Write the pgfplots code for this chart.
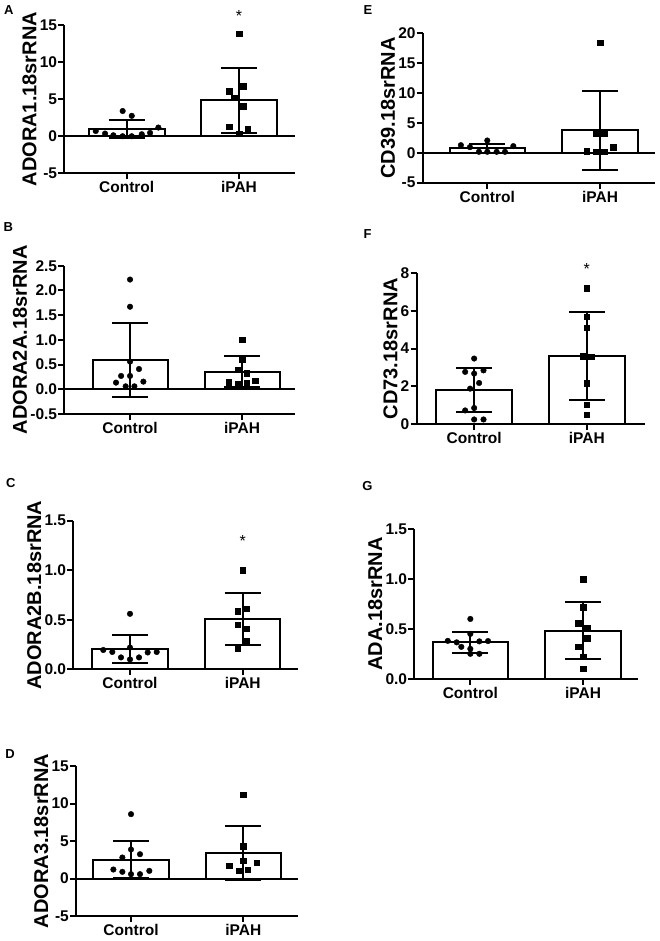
\documentclass[border=0pt]{standalone}
\usepackage{pgfplots}
\pgfplotsset{compat=1.18}
\usepackage{fontspec}
\setmainfont{Liberation Sans}
\newcommand{\tickfont}{\bfseries\fontsize{15.5}{16}\selectfont}
\newcommand{\labfont}{\bfseries\fontsize{20}{22}\selectfont}
\pgfplotsset{
  panel/.style={
    scale only axis,
    axis x line*=bottom, axis y line*=left,
    axis line style={line width=2pt,-},
    every tick/.style={line width=2pt,black},
    major tick length=6pt,
    tick align=outside,
    xtick={0,1}, xticklabels={Control,iPAH},
    minor tick num=0,
    clip=false,
    ticklabel style={font=\tickfont},
    /pgf/number format/assume math mode=true,
    label style={font=\labfont},
    yticklabel style={inner sep=1pt},
    xticklabel style={inner sep=2pt},
    ylabel style={inner sep=2pt},
  },
  dec/.style={yticklabel style={/pgf/number format/.cd,fixed,fixed zerofill,precision=1}},
  bars/.style={ybar, bar width=#1, bar shift=0pt, fill=white, draw=black, line width=2pt,
    error bars/.cd, y dir=both, y explicit,
    error bar style={line width=2pt,black},
    error mark options={rotate=90, line width=2pt, mark size=18pt, black}},
  ctrl/.style={only marks, mark=*, mark size=2.8pt, black},
  ipah/.style={only marks, mark=square*, mark size=2.8pt, black},
  zline/.style={black, line width=2pt, mark=none},
}
\begin{document}
\begin{tikzpicture}
\useasboundingbox (0,0) rectangle (660pt,-941pt);
\tikzset{lett/.style={font=\bfseries\fontsize{13}{14}\selectfont}}
\node[lett] at (8.7pt,-10.5pt) {A};
\node[lett] at (8.3pt,-227.5pt) {B};
\node[lett] at (10.7pt,-483pt) {C};
\node[lett] at (10pt,-754pt) {D};
\node[lett] at (368pt,-10pt) {E};
\node[lett] at (367.5pt,-234pt) {F};
\node[lett] at (367.5pt,-486pt) {G};

% ---------- A
\begin{axis}[panel, at={(64.3pt,-173.3pt)}, anchor=south west,
  width=230.7pt, height=148.3pt, xmin=-0.556, xmax=1.499, ymin=-5, ymax=15,
  ytick={-5,0,5,10,15}, ylabel={ADORA1.18srRNA}]
\addplot[zline] coordinates {(-0.556,0) (1.499,0)};
\addplot[bars=0.675] coordinates {(0,1.0) +- (0,1.2) (1,4.85) +- (0,4.35)};
\addplot[ctrl] coordinates {(-0.276,0.7) (-0.193,0.36) (-0.119,0.13) (-0.036,0) (0.045,0) (0.134,0.27) (0.208,0.45) (0.282,1.17) (-0.036,3.4) (0.045,2.75)};
\addplot[ipah] coordinates {(1,13.8) (0.914,6.1) (1.039,6.75) (0.958,5.2) (1.039,4.05) (0.914,1.26) (1.077,1.04) (1,0.36)};
\node[font=\fontsize{16}{16}\selectfont] at (axis cs:1,16.2) {*};
\end{axis}

% ---------- B
\begin{axis}[panel, dec, at={(64.3pt,-414pt)}, anchor=south west,
  width=230.7pt, height=148.3pt, xmin=-0.587, xmax=1.473, ymin=-0.5, ymax=2.5,
  ytick={-0.5,0,0.5,1,1.5,2,2.5}, ylabel={ADORA2A.18srRNA}]
\addplot[zline] coordinates {(-0.587,0) (1.473,0)};
\addplot[bars=0.67] coordinates {(0,0.59) +- (0,0.745) (1,0.355) +- (0,0.315)};
\addplot[ctrl] coordinates {(0,2.22) (0,1.67) (0,0.56) (0.08,0.41) (-0.08,0.27) (0,0.27) (-0.125,0.135) (0.119,0.155) (-0.039,0.06) (0.039,0.06)};
\addplot[ipah] coordinates {(1,1.0) (1,0.6) (0.961,0.40) (1.042,0.32) (0.881,0.14) (0.961,0.11) (1.042,0.125) (1.119,0.175)};
\end{axis}

% ---------- C
\begin{axis}[panel, dec, at={(73.3pt,-669.3pt)}, anchor=south west,
  width=225pt, height=148.6pt, xmin=-0.503, xmax=1.493, ymin=0, ymax=1.5,
  ytick={0,0.5,1,1.5}, ylabel={ADORA2B.18srRNA}]
\addplot[bars=0.666] coordinates {(0,0.205) +- (0,0.137) (1,0.51) +- (0,0.26)};
\addplot[ctrl] coordinates {(0,0.56) (-0.237,0.195) (-0.157,0.175) (0,0.22) (0.237,0.175) (0.157,0.17) (-0.08,0.12) (0,0.10) (0.08,0.12)};
\addplot[ipah] coordinates {(1,1.0) (0.956,0.585) (1.036,0.61) (0.956,0.45) (1.036,0.41) (1.036,0.286) (0.956,0.215)};
\node[font=\fontsize{16}{16}\selectfont] at (axis cs:1,1.3) {*};
\end{axis}

% ---------- D
\begin{axis}[panel, at={(76pt,-916pt)}, anchor=south west,
  width=222.3pt, height=150pt, xmin=-0.49, xmax=1.49, ymin=-5, ymax=15,
  ytick={-5,0,5,10,15}, ylabel={ADORA3.18srRNA}]
\addplot[zline] coordinates {(-0.49,0) (1.49,0)};
\addplot[bars=0.67] coordinates {(0,2.53) +- (0,2.45) (1,3.45) +- (0,3.6)};
\addplot[ctrl] coordinates {(0,8.58) (0,3.87) (-0.077,2.8) (0.08,3.24) (-0.157,1.2) (-0.077,0.89) (0.163,1.02) (0,0.58) (0.08,0.58)};
\addplot[ipah] coordinates {(1,11.2) (1,4.3) (1,2.36) (0.875,1.73) (1.119,2.09) (0.958,1.02) (1.039,1.2)};
\end{axis}

% ---------- E
\begin{axis}[panel, at={(422.7pt,-182.7pt)}, anchor=south west,
  width=232.3pt, height=149.4pt, xmin=-0.573, xmax=1.488, ymin=-5, ymax=20,
  ytick={-5,0,5,10,15,20}, ylabel={CD39.18srRNA}]
\addplot[zline] coordinates {(-0.573,0) (1.488,0)};
\addplot[bars=0.666] coordinates {(0,0.75) +- (0,0.7) (1,3.75) +- (0,6.65)};
\addplot[ctrl] coordinates {(-0.234,1.28) (-0.154,0.95) (0,2.06) (0.231,1.12) (-0.074,0.17) (0,0.17) (0.083,0.17) (0.157,0.17)};
\addplot[ipah] coordinates {(1,18.4) (0.962,3.18) (1.038,3.18) (1.118,0.95) (0.882,0.28) (0.962,0.17) (1.038,0.17)};
\end{axis}

% ---------- F
\begin{axis}[panel, at={(416.5pt,-423.8pt)}, anchor=south west,
  width=228.5pt, height=150.5pt, xmin=-0.512, xmax=1.517, ymin=0, ymax=8,
  ytick={0,2,4,6,8}, ylabel={CD73.18srRNA}]
\addplot[bars=0.67] coordinates {(0,1.8) +- (0,1.18) (1,3.62) +- (0,2.33)};
\addplot[ctrl] coordinates {(0,3.47) (-0.08,2.76) (0,2.67) (0.083,2.84) (0.044,2.17) (-0.036,1.87) (-0.08,0.71) (0,0.84) (0,0.23) (0.083,0.23)};
\addplot[ipah] coordinates {(1,7.2) (1,5.69) (1,5.1) (0.962,3.59) (1.041,3.56) (1,2.17) (1,1.01) (1,0.48)};
\node[font=\fontsize{16}{16}\selectfont] at (axis cs:1,8.25) {*};
\end{axis}

% ---------- G
\begin{axis}[panel, dec, at={(414.3pt,-678.7pt)}, anchor=south west,
  width=224pt, height=149.4pt, xmin=-0.497, xmax=1.49, ymin=0, ymax=1.5,
  ytick={0,0.5,1,1.5}, ylabel={ADA.18srRNA}]
\addplot[bars=0.67] coordinates {(0,0.367) +- (0,0.105) (1,0.48) +- (0,0.287)};
\addplot[ctrl] coordinates {(0,0.6) (0,0.45) (-0.2,0.38) (-0.121,0.365) (0.08,0.375) (0.157,0.378) (-0.08,0.32) (0,0.30) (0,0.25) (0.08,0.25)};
\addplot[ipah] coordinates {(1,1.0) (1,0.72) (0.959,0.56) (1.038,0.51) (1.038,0.405) (0.959,0.32) (1,0.22) (1,0.10)};
\end{axis}
\end{tikzpicture}
\end{document}
